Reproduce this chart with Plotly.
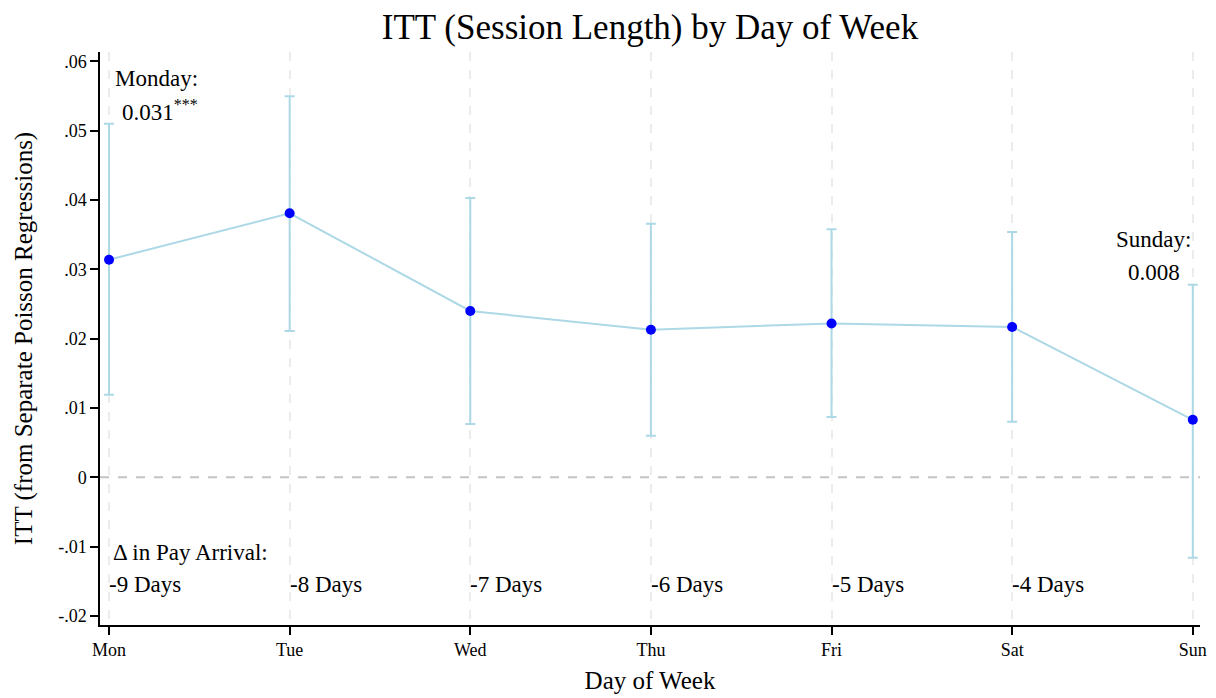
import plotly.graph_objects as go

# Day-of-week ITT estimates with 95% confidence intervals
days = ["Mon", "Tue", "Wed", "Thu", "Fri", "Sat", "Sun"]
itt = [0.0314, 0.0381, 0.0240, 0.0213, 0.0222, 0.0217, 0.0083]
ci_low = [0.0119, 0.0211, 0.0077, 0.0060, 0.0087, 0.0080, -0.0116]
ci_high = [0.0510, 0.0550, 0.0403, 0.0366, 0.0358, 0.0354, 0.0278]
pay_shift = ["-9 Days", "-8 Days", "-7 Days", "-6 Days", "-5 Days", "-4 Days"]
ytick_vals = [-0.02, -0.01, 0, 0.01, 0.02, 0.03, 0.04, 0.05, 0.06]
ytick_text = ["-.02", "-.01", "0", ".01", ".02", ".03", ".04", ".05", ".06"]

FONT = "Liberation Serif"
x = list(range(len(days)))

fig = go.Figure()
fig.add_trace(go.Scatter(
    x=x, y=itt,
    mode="lines+markers",
    line=dict(color="#add8e6", width=2),
    marker=dict(color="#0000ff", size=10),
    error_y=dict(
        type="data", symmetric=False,
        array=[h - v for h, v in zip(ci_high, itt)],
        arrayminus=[v - l for l, v in zip(ci_low, itt)],
        color="#add8e6", thickness=2, width=5,
    ),
    showlegend=False,
))

# dashed reference line at zero
fig.add_shape(type="line", xref="x", yref="y", x0=-0.05, x1=6.04, y0=0, y1=0,
              line=dict(color="#c4c4c4", width=2, dash="dash"), layer="below")

ann = []
ann.append(dict(x=0.02, y=0.0576, text="Monday:", xanchor="left"))
ann.append(dict(x=0.06, y=0.0530, text=f"{itt[0]:.3f}<sup>***</sup>", xanchor="left"))
ann.append(dict(x=6.0, y=0.0343, text="Sunday:", xanchor="right"))
ann.append(dict(x=5.94, y=0.0296, text=f"{itt[6]:.3f}", xanchor="right"))
ann.append(dict(x=0.01, y=-0.0108, text="Δ in Pay Arrival:", xanchor="left"))
for i, lab in enumerate(pay_shift):
    ann.append(dict(x=i - 0.01, y=-0.0155, text=lab, xanchor="left"))
for a in ann:
    a.update(xref="x", yref="y", showarrow=False, yanchor="middle",
             font=dict(family=FONT, size=23, color="black"))

fig.update_layout(
    width=1216, height=698,
    paper_bgcolor="white", plot_bgcolor="white",
    margin=dict(l=100, r=16, t=52, b=73),
    font=dict(family=FONT, color="black"),
    title=dict(text="ITT (Session Length) by Day of Week", x=0.5, xref="paper",
               y=0.962, yanchor="middle", font=dict(family=FONT, size=35, color="black")),
    annotations=ann,
    xaxis=dict(
        range=[-0.05, 6.04], tickvals=x, ticktext=days,
        showline=True, linecolor="black", linewidth=1.5,
        ticks="outside", ticklen=8, tickwidth=1.5, tickcolor="black",
        tickfont=dict(family=FONT, size=18),
        showgrid=True, gridcolor="#ececec", gridwidth=2, griddash="dash",
        zeroline=False, automargin=False,
        title=dict(text="Day of Week", font=dict(family=FONT, size=25), standoff=12),
    ),
    yaxis=dict(
        range=[-0.02131, 0.06137], tickvals=ytick_vals, ticktext=ytick_text,
        showline=True, linecolor="black", linewidth=1.5,
        ticks="outside", ticklen=8, tickwidth=1.5, tickcolor="black",
        tickfont=dict(family=FONT, size=18),
        showgrid=False, zeroline=False, automargin=False,
        title=dict(text="ITT (from Separate Poisson Regressions)",
                   font=dict(family=FONT, size=25), standoff=18),
    ),
)

fig.write_html("out.html")
